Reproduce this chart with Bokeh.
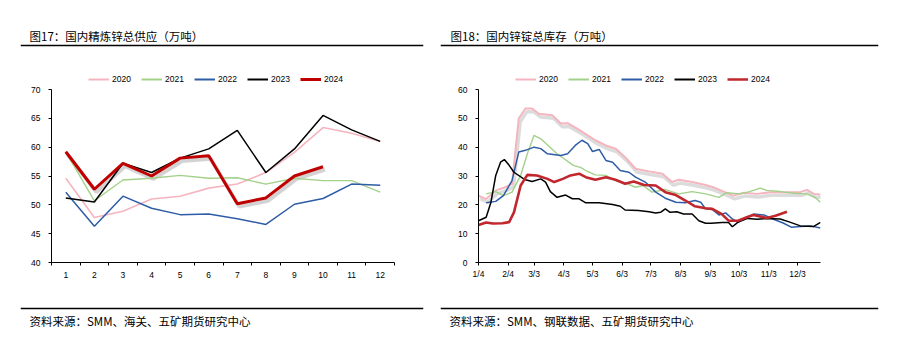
from bokeh.plotting import figure
from bokeh.models import Range1d, FixedTicker, Legend, LegendItem, Label, Span
from bokeh.layouts import row, column
from bokeh.embed import file_html
from bokeh.resources import INLINE

# ---------------- data: chart 1 (monthly supply) ----------------
months = list(range(1, 13))
sup_2020 = [54.6, 47.8, 48.9, 51.0, 51.5, 52.9, 53.6, 55.6, 59.1, 63.4, 62.4, 61.0]
sup_2021 = [59.2, 50.7, 54.3, 54.6, 55.1, 54.6, 54.7, 53.6, 54.6, 54.2, 54.2, 52.2]
sup_2022 = [52.2, 46.3, 51.5, 49.4, 48.3, 48.4, 47.6, 46.6, 50.1, 51.1, 53.6, 53.4]
sup_2023 = [51.2, 50.5, 57.2, 55.6, 58.1, 59.7, 62.9, 55.6, 59.7, 65.5, 63.0, 61.0]
sup_2024 = [59.2, 52.7, 57.2, 55.0, 58.1, 58.5, 50.2, 51.2, 55.0, 56.6]

# ---------------- data: chart 2 (inventory, x = days since 1/4) ----------------
inv_2020_d = [0, 8, 18, 28, 35, 42, 49, 56, 63, 77, 86, 93, 103, 114, 122, 133, 143, 153, 164, 178,
              192, 202, 209, 223, 237, 245, 256, 266, 277, 291, 304, 322, 336, 343, 350, 357]
inv_2020_v = [23.2, 22.0, 25.0, 26.1, 27.3, 49.9, 53.4, 53.4, 51.6, 51.1, 48.2, 48.3, 46.4, 44.1, 42.4,
              40.6, 39.5, 36.5, 32.5, 31.6, 30.8, 27.9, 28.7, 27.9, 26.9, 26.1, 24.6, 23.2, 24.2, 23.8,
              24.4, 24.4, 24.4, 25.2, 23.8, 23.6]
inv_2021_d = [8, 18, 26, 35, 44, 51, 58, 65, 82, 99, 107, 112, 122, 133, 143, 153, 164, 172, 181, 195,
              209, 223, 237, 251, 259, 273, 283, 294, 301, 315, 329, 343, 351, 357]
inv_2021_v = [23.8, 24.6, 23.2, 24.4, 30.2, 37.7, 44.1, 42.9, 37.7, 33.7, 32.9, 31.9, 30.4, 30.2, 28.4,
              27.6, 26.1, 26.7, 24.4, 25.3, 23.8, 24.6, 23.8, 22.6, 24.2, 23.8, 24.6, 25.8, 25.0, 24.6,
              24.0, 23.8, 22.6, 20.9]
inv_2022_d = [8, 18, 26, 35, 42, 49, 58, 65, 72, 86, 93, 101, 108, 114, 119, 126, 133, 140, 148, 157,
              164, 174, 185, 195, 206, 216, 226, 232, 237, 244, 251, 258, 265, 271, 277, 287, 298, 308,
              318, 327, 336, 346, 357]
inv_2022_v = [20.7, 21.2, 23.2, 28.4, 38.3, 38.9, 40.0, 39.5, 37.7, 37.1, 37.7, 40.6, 42.4, 41.2, 38.5,
              39.2, 35.4, 34.8, 31.9, 31.3, 29.6, 27.9, 24.4, 22.3, 20.9, 20.7, 21.5, 20.9, 18.6, 18.4,
              16.5, 17.2, 15.1, 13.9, 15.1, 16.8, 16.5, 15.0, 13.7, 12.2, 12.5, 12.7, 12.0]
inv_2023_d = [0, 8, 13, 18, 23, 27, 32, 37, 48, 56, 65, 70, 75, 82, 91, 98, 105, 112, 126, 140, 148,
              153, 167, 178, 185, 190, 195, 200, 207, 214, 223, 230, 237, 243, 254, 261, 265, 271, 281,
              291, 301, 315, 325, 336, 350, 357]
inv_2023_v = [14.5, 15.7, 20.9, 30.2, 34.8, 35.7, 33.7, 31.3, 28.8, 28.1, 29.0, 27.9, 24.6, 22.6, 23.4,
              22.1, 22.1, 20.7, 20.7, 20.1, 19.5, 18.2, 18.0, 17.6, 17.2, 17.4, 18.6, 17.4, 17.6, 16.8,
              16.8, 14.5, 13.6, 13.6, 13.9, 13.9, 12.4, 14.0, 15.3, 15.0, 15.3, 15.1, 14.0, 12.7, 12.5,
              13.9]
inv_2024_d = [0, 8, 15, 25, 32, 37, 44, 51, 61, 72, 79, 88, 96, 105, 112, 122, 133, 143, 153, 162, 173,
              185, 195, 206, 216, 226, 237, 244, 254, 261, 271, 280, 287, 301, 310, 322]
inv_2024_v = [13.0, 13.9, 13.5, 13.6, 14.0, 17.4, 26.7, 30.4, 30.2, 29.0, 27.9, 29.0, 30.2, 30.8, 29.6,
              28.7, 29.6, 28.7, 27.3, 28.1, 26.9, 26.7, 24.4, 23.4, 21.5, 19.5, 18.8, 18.6, 16.8, 14.5,
              14.5, 15.7, 16.5, 15.4, 16.2, 17.6]

inv_tick_days = [0, 31, 58, 89, 119, 150, 180, 211, 242, 272, 303, 333]
inv_tick_labels = ["1/4", "2/4", "3/3", "4/3", "5/3", "6/3", "7/3", "8/3", "9/3", "10/3", "11/3", "12/3"]

years = ["2020", "2021", "2022", "2023", "2024"]

C_PINK = "#F5B5BF"
C_GREEN = "#A3D18A"
C_BLUE = "#2F5CA6"
C_BLACK = "#000000"
C_RED1 = "#C00000"
C_RED2 = "#C1272D"

TICK_FONT = "Liberation Sans"
CJK_FONT = "Noto Sans CJK SC"

HEAD_H = 85
CHART_H = 215
FOOT_H = 50
NAN = float("nan")


def strip_fig(width, height, bl, br):
    p = figure(width=width, height=height, x_range=Range1d(0, 1), y_range=Range1d(height, 0),
               x_axis_type=None, y_axis_type=None, output_backend="svg", toolbar_location=None,
               min_border_left=bl, min_border_right=br, min_border_top=0, min_border_bottom=0)
    p.frame_align = False
    p.outline_line_color = None
    p.xgrid.visible = False
    p.ygrid.visible = False
    p.background_fill_color = "white"
    p.border_fill_color = "white"
    return p


def header(width, bl, br, title, title_dx, legend_dx, colors, widths):
    p = strip_fig(width, HEAD_H, bl, br)
    p.add_layout(Label(x=title_dx, y=35, x_units="screen", text=title, text_font=CJK_FONT,
                       text_font_size="11.5px", text_baseline="middle", text_color="#000000"))
    p.add_layout(Span(location=45, dimension="width", line_color="#000000", line_width=1.5))
    rs = [p.line(x=[NAN], y=[NAN], line_color=c, line_width=w) for c, w in zip(colors, widths)]
    items = [LegendItem(label=y, renderers=[r]) for y, r in zip(years, rs)]
    lg = Legend(items=items, orientation="horizontal", location=(legend_dx, 1),
                glyph_width=21, glyph_height=10, label_height=10, label_standoff=3, spacing=9,
                padding=0, margin=0, border_line_color=None, background_fill_alpha=0,
                label_text_font=TICK_FONT, label_text_font_size="8.5px", label_text_color="#000000")
    p.add_layout(lg)
    return p


def footer(width, bl, br, text, text_dx):
    p = strip_fig(width, FOOT_H, bl, br)
    p.add_layout(Span(location=8, dimension="width", line_color="#000000", line_width=1.5))
    p.add_layout(Label(x=text_dx, y=20, x_units="screen", text=text, text_font=CJK_FONT,
                       text_font_size="11.5px", text_baseline="middle", text_color="#000000"))
    return p


def chart_fig(width, bl, br, xr, yr):
    p = figure(width=width, height=CHART_H, x_range=xr, y_range=yr,
               output_backend="svg", toolbar_location=None,
               min_border_left=bl, min_border_right=br, min_border_top=4, min_border_bottom=38)
    p.frame_align = False
    p.outline_line_color = None
    p.background_fill_color = "white"
    p.border_fill_color = "white"
    p.xgrid.visible = False
    p.ygrid.visible = False
    for ax in (p.xaxis[0], p.yaxis[0]):
        ax.axis_line_color = "#000000"
        ax.axis_line_width = 1
        ax.major_label_text_font = TICK_FONT
        ax.major_label_text_font_size = "8.5px"
        ax.major_label_text_color = "#000000"
        ax.minor_tick_line_color = None
        ax.major_tick_line_color = "#000000"
        ax.major_tick_in = 0
        ax.major_tick_out = 3
    p.yaxis[0].major_label_standoff = 8
    return p


# ---------------- chart 1 ----------------
h1 = header(438, 20, 15, "图17：国内精炼锌总供应（万吨）", 9, 68,
            [C_PINK, C_GREEN, C_BLUE, C_BLACK, C_RED1], [2, 2, 2, 2, 3])
p1 = chart_fig(438, 51, 44, Range1d(0.5, 12.5), Range1d(40, 70))
p1.extra_x_ranges = {"shx": Range1d(0.5 - 0.07, 12.5 - 0.07)}
p1.extra_y_ranges = {"shy": Range1d(40.5, 70.5)}
p1.yaxis[0].ticker = FixedTicker(ticks=[40, 45, 50, 55, 60, 65, 70])
p1.xaxis[0].ticker = FixedTicker(ticks=months, minor_ticks=[m + 0.5 for m in range(0, 13)])
p1.xaxis[0].major_tick_line_color = None
p1.xaxis[0].major_tick_out = 0
p1.xaxis[0].minor_tick_line_color = "#000000"
p1.xaxis[0].minor_tick_in = 0
p1.xaxis[0].minor_tick_out = 3
p1.xaxis[0].major_label_standoff = 6

p1.line(months[:len(sup_2024)], sup_2024, line_color="#808080", line_alpha=0.35, line_width=4,
        x_range_name="shx", y_range_name="shy")
p1.line(months, sup_2020, line_color=C_PINK, line_width=1.6)
p1.line(months, sup_2021, line_color=C_GREEN, line_width=1.4)
p1.line(months, sup_2022, line_color=C_BLUE, line_width=1.5)
p1.line(months, sup_2023, line_color=C_BLACK, line_width=1.5)
p1.line(months[:len(sup_2024)], sup_2024, line_color=C_RED1, line_width=3)
f1 = footer(438, 20, 15, "资料来源：SMM、海关、五矿期货研究中心", 9)

# ---------------- chart 2 ----------------
h2 = header(461, 2, 21, "图18：国内锌锭总库存（万吨）", 10, 75,
            [C_PINK, C_GREEN, C_BLUE, C_BLACK, C_RED2], [2, 2, 2, 2, 2.5])
p2 = chart_fig(461, 40, 79, Range1d(0, 357), Range1d(0, 60))
p2.extra_x_ranges = {"shx": Range1d(-1.5, 355.5)}
p2.extra_y_ranges = {"shy": Range1d(1.1, 61.1)}
p2.yaxis[0].ticker = FixedTicker(ticks=[0, 10, 20, 30, 40, 50, 60])
p2.xaxis[0].ticker = FixedTicker(ticks=inv_tick_days)
p2.xaxis[0].major_label_overrides = {d: l for d, l in zip(inv_tick_days, inv_tick_labels)}
p2.xaxis[0].major_label_standoff = 3

p2.line(inv_2020_d, inv_2020_v, line_color="#BFBFBF", line_alpha=0.55, line_width=3.5,
        x_range_name="shx", y_range_name="shy")
p2.line(inv_2020_d, inv_2020_v, line_color=C_PINK, line_width=2)
p2.line(inv_2021_d, inv_2021_v, line_color=C_GREEN, line_width=1.4)
p2.line(inv_2022_d, inv_2022_v, line_color=C_BLUE, line_width=1.5)
p2.line(inv_2023_d, inv_2023_v, line_color=C_BLACK, line_width=1.5)
p2.line(inv_2024_d, inv_2024_v, line_color=C_RED2, line_width=2.6)
f2 = footer(461, 2, 21, "资料来源：SMM、钢联数据、五矿期货研究中心", 9)

layout = row(column(h1, p1, f1, spacing=0), column(h2, p2, f2, spacing=0), spacing=0)
open("out.html", "w").write(file_html(layout, INLINE))
